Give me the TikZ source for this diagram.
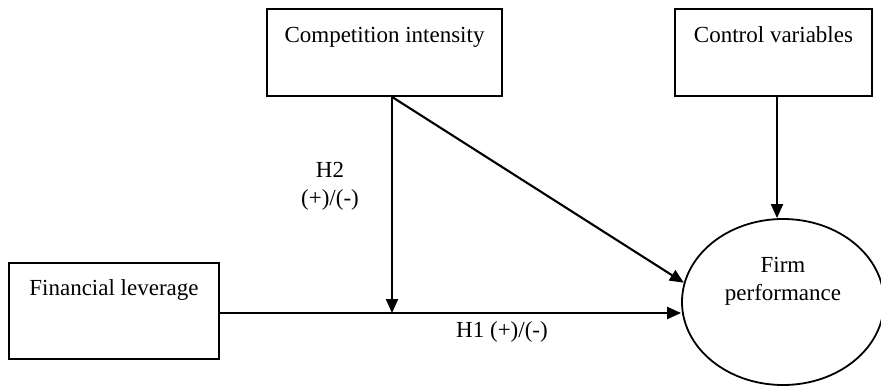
\documentclass[tikz,border=0pt]{standalone}
\usepackage{fontspec}
\setmainfont{Liberation Serif}
\usetikzlibrary{arrows.meta,positioning,shapes.geometric}

\begin{document}
\begin{tikzpicture}[x=1pt,y=-1pt,>={Triangle[length=14pt,width=12pt]},
  varbox/.style={draw=black,line width=1.8pt,inner sep=0pt,font=\fontsize{23}{28}\selectfont},
  lbl/.style={inner sep=0pt,align=center,font=\fontsize{23}{28}\selectfont},
  link/.style={->,line width=2.1pt}]
\useasboundingbox (0,0) rectangle (881,386);
\node[varbox,minimum width=235pt,text height=33pt,text depth=54pt] (comp) at (384.5,52.5) {Competition intensity};
\node[varbox,minimum width=197pt,text height=33pt,text depth=54pt] (ctrl) at (773.5,52.5) {Control variables};
\node[varbox,minimum width=210pt,text height=32pt,text depth=64pt] (lev) at (114,311) {Financial leverage};
\node[draw=black,line width=1.8pt,ellipse,minimum width=202pt,minimum height=166pt,inner sep=0pt] (perf) at (783,302) {};
\node[lbl] (perf_t) at (783,281) {Firm\\performance};
\coordinate (mod_top) at ([xshift=7.5pt]comp.south);
\coordinate (mod_pt) at (mod_top |- 0,313);
\draw[line width=2.1pt] (lev.east |- mod_pt) -- (mod_pt);
\draw[link] (mod_pt) -- (mod_pt -| perf.west);
\draw[link] (mod_top) -- (mod_pt);
\draw[link] (mod_top) -- (perf.169);
\draw[link] ([xshift=3.5pt]ctrl.south) -- ([xshift=3.5pt]ctrl.south |- perf.north);
\node[lbl] (h2) at (330,186) {H2\\(+)/(-)};
\node[lbl] (h1) at (502,332) {H1 (+)/(-)};
\end{tikzpicture}
\end{document}
